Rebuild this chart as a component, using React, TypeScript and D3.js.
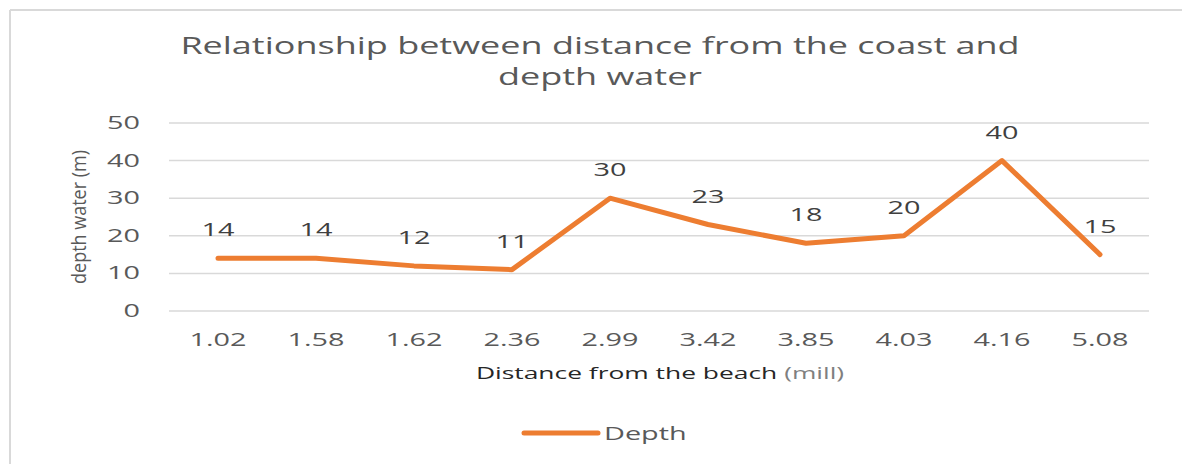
import React from "react";
import * as d3 from "d3";

const categories = ["1.02", "1.58", "1.62", "2.36", "2.99", "3.42", "3.85", "4.03", "4.16", "5.08"];
const depth = [14, 14, 12, 11, 30, 23, 18, 20, 40, 15];
const yTicks = [0, 10, 20, 30, 40, 50];
const titleLines = ["Relationship  between distance from the coast and", "depth water"];
const seriesName = "Depth";

const font = "'Open Sans', 'DejaVu Sans', sans-serif";

function T(props: { x: number; y: number; sx?: number; size: number; fill: string; anchor?: string; children: React.ReactNode; family?: string }) {
  const { x, y, sx = 1.6, size, fill, anchor = "start", children, family = font } = props;
  return (
    <text transform={`translate(${x},${y}) scale(${sx},1)`} textAnchor={anchor} fontFamily={family} fontSize={size} fill={fill}>
      {children}
    </text>
  );
}

export default function App() {
  const W = 1182, H = 464;
  const m = { left: 169, right: 1149, top: 123, bottom: 311 };
  const x = d3.scaleBand<string>().domain(categories).range([m.left, m.right]);
  const y = d3.scaleLinear().domain([0, 50]).range([m.bottom, m.top]);
  const cx = (c: string) => (x(c) as number) + x.bandwidth() / 2;
  const line = d3.line<number>().x((_, i) => cx(categories[i])).y((d) => y(d));
  return (
    <svg width={W} height={H} style={{ position: "absolute", left: 0, top: 0, background: "#fff" }}>
      <rect x={0} y={0} width={W} height={H} fill="#fff" />
      <line x1={10} x2={W} y1={10} y2={10} stroke="#d9d9d9" strokeWidth={2} />
      <line x1={10} x2={10} y1={10} y2={H} stroke="#d9d9d9" strokeWidth={2} />
      {titleLines.map((t, i) => (
        <T key={i} x={600} y={54 + i * 31} sx={1.5} anchor="middle" size={24} fill="#595959">{t}</T>
      ))}
      {yTicks.map((t) => (
        <g key={t}>
          <line x1={m.left} x2={m.right} y1={y(t)} y2={y(t)} stroke="#d9d9d9" strokeWidth={1.5} />
          <T x={140} y={y(t) + 6} anchor="end" size={18} fill="#595959">{t}</T>
        </g>
      ))}
      <text transform={`translate(86,217) rotate(-90) scale(1.2,1.3)`} textAnchor="middle" fontFamily={font} fontSize={15} fill="#595959">depth water (m)</text>
      {categories.map((c) => (
        <T key={c} x={cx(c)} y={346} anchor="middle" size={18} fill="#595959">{c}</T>
      ))}
      <T x={660} y={379} anchor="middle" size={16} sx={1.65} fill="#262626">
        Distance from the beach <tspan fill="#7f7f7f">(mill)</tspan>
      </T>
      <path d={line(depth) || ""} fill="none" stroke="#ED7D31" strokeWidth={5} strokeLinecap="round" strokeLinejoin="round" />
      {depth.map((v, i) => (
        <T key={i} x={cx(categories[i])} y={y(v) - 22} anchor="middle" size={18} fill="#404040">{v}</T>
      ))}
      <line x1={524} x2={598} y1={433} y2={433} stroke="#ED7D31" strokeWidth={5} strokeLinecap="round" />
      <T x={604} y={440} size={18} fill="#595959">{seriesName}</T>
    </svg>
  );
}
